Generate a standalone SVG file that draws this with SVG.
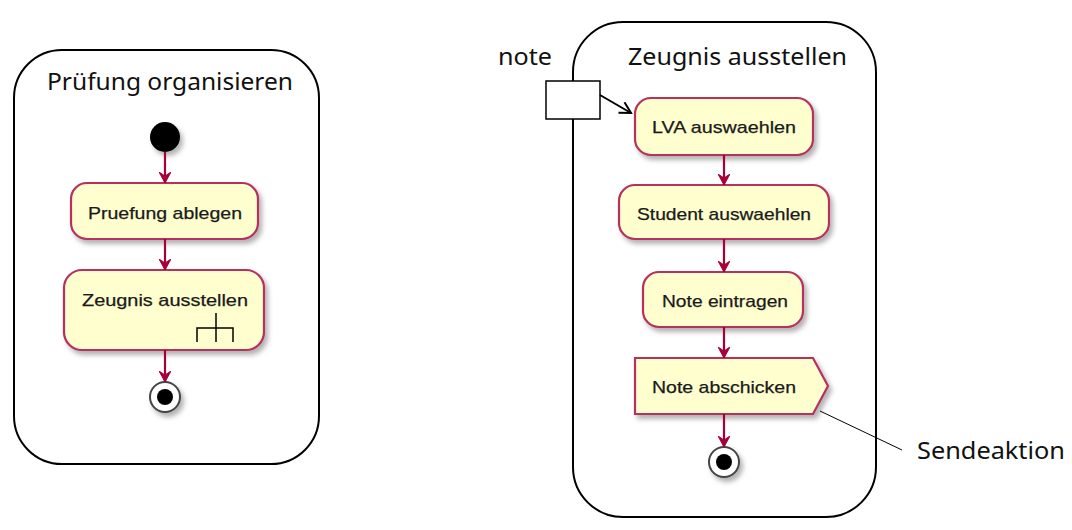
<svg xmlns="http://www.w3.org/2000/svg" width="1072" height="530" viewBox="0 0 1072 530">
<defs>
<style>
.frame{fill:none;stroke:#000;stroke-width:2}
.act{fill:#FEFECE;stroke:#B5305F;stroke-width:2.2}
.atxt{font-family:"Liberation Sans",Arial,sans-serif;font-size:17px;fill:#1a1a1a;stroke:#1a1a1a;stroke-width:0.25;text-anchor:middle}
.ttl{font-family:"Noto Sans","Open Sans",sans-serif;font-size:24px;fill:#111}
.flow{stroke:#A80036;stroke-width:2.2;fill:none}
.endo{fill:#fff;stroke:#444;stroke-width:2}
</style>
<filter id="sh" x="-20%" y="-20%" width="150%" height="160%">
<feDropShadow dx="3" dy="4" stdDeviation="2.5" flood-color="#000" flood-opacity="0.3"/>
</filter>
<marker id="ah" viewBox="0 0 12 12" refX="11" refY="6" markerWidth="12" markerHeight="12" markerUnits="userSpaceOnUse" orient="auto">
<path d="M0,0 L11,6 L0,12 L4,6 Z" fill="#A80036" stroke="#A80036" stroke-width="1"/>
</marker>
<marker id="open" viewBox="0 0 14 14" refX="12" refY="7" markerWidth="14" markerHeight="14" markerUnits="userSpaceOnUse" orient="auto">
<path d="M1,1 L12,7 L1,13" fill="none" stroke="#000" stroke-width="2"/>
</marker>
</defs>
<rect width="1072" height="530" fill="#fff"/>

<g id="frame-left">
<rect class="frame" x="14" y="50" width="305" height="414" rx="48" ry="48"/>
<text class="ttl" x="47" y="90" textLength="246" lengthAdjust="spacingAndGlyphs">Prüfung organisieren</text>
</g>
<g id="start-left"><circle cx="165" cy="137" r="15" fill="#000" filter="url(#sh)"/></g>
<g id="pruefung-ablegen">
<rect class="act" x="71" y="183" width="187" height="56" rx="16" filter="url(#sh)"/>
<text class="atxt" x="165" y="219" textLength="154" lengthAdjust="spacingAndGlyphs">Pruefung ablegen</text>
</g>
<g id="zeugnis-ausstellen-call">
<rect class="act" x="64" y="270" width="200" height="80" rx="18" filter="url(#sh)"/>
<text class="atxt" x="165" y="306" textLength="166" lengthAdjust="spacingAndGlyphs">Zeugnis ausstellen</text>
<path d="M197,342 V328 H233 V342 M216,313 V342" fill="none" stroke="#000" stroke-width="1.5"/>
</g>
<g id="end-left">
<circle class="endo" cx="165" cy="397" r="15" filter="url(#sh)"/>
<circle cx="165" cy="397" r="8" fill="#000"/>
</g>

<g id="frame-right">
<rect class="frame" x="573" y="22" width="303" height="495" rx="50" ry="50"/>
<text class="ttl" x="628" y="65" textLength="219" lengthAdjust="spacingAndGlyphs">Zeugnis ausstellen</text>
</g>
<g id="note">
<text class="ttl" x="498" y="65" textLength="54" lengthAdjust="spacingAndGlyphs">note</text>
<rect x="546" y="81" width="54" height="38" fill="#fff" stroke="#000" stroke-width="1.5"/>
</g>
<g id="lva-auswaehlen">
<rect class="act" x="635" y="98" width="178" height="57" rx="16" filter="url(#sh)"/>
<text class="atxt" x="724" y="133" textLength="144" lengthAdjust="spacingAndGlyphs">LVA auswaehlen</text>
</g>
<g id="student-auswaehlen">
<rect class="act" x="619" y="185" width="210" height="54" rx="16" filter="url(#sh)"/>
<text class="atxt" x="724" y="220" textLength="174" lengthAdjust="spacingAndGlyphs">Student auswaehlen</text>
</g>
<g id="note-eintragen">
<rect class="act" x="643" y="272" width="160" height="55" rx="16" filter="url(#sh)"/>
<text class="atxt" x="725" y="307" textLength="126" lengthAdjust="spacingAndGlyphs">Note eintragen</text>
</g>
<g id="note-abschicken">
<path class="act" d="M635,358 H813 L828,386 L813,414 H635 Z" filter="url(#sh)"/>
<text class="atxt" x="724" y="393" textLength="144" lengthAdjust="spacingAndGlyphs">Note abschicken</text>
</g>
<g id="end-right">
<circle class="endo" cx="724" cy="462" r="15" filter="url(#sh)"/>
<circle cx="724" cy="462" r="8" fill="#000"/>
</g>
<g id="sendeaktion">
<text class="ttl" x="917" y="459" textLength="148" lengthAdjust="spacingAndGlyphs">Sendeaktion</text>
</g>

<g id="connectors">
<line class="flow" x1="165" y1="152" x2="165" y2="183" marker-end="url(#ah)"/>
<line class="flow" x1="165" y1="239" x2="165" y2="270" marker-end="url(#ah)"/>
<line class="flow" x1="165" y1="350" x2="165" y2="382" marker-end="url(#ah)"/>
<line class="flow" x1="724" y1="155" x2="724" y2="185" marker-end="url(#ah)"/>
<line class="flow" x1="724" y1="239" x2="724" y2="272" marker-end="url(#ah)"/>
<line class="flow" x1="724" y1="327" x2="724" y2="358" marker-end="url(#ah)"/>
<line class="flow" x1="724" y1="414" x2="724" y2="447" marker-end="url(#ah)"/>
<line x1="600" y1="95" x2="631" y2="113" stroke="#000" stroke-width="2" marker-end="url(#open)"/>
<line x1="820" y1="411" x2="902" y2="450" stroke="#000" stroke-width="1"/>
</g>
</svg>
